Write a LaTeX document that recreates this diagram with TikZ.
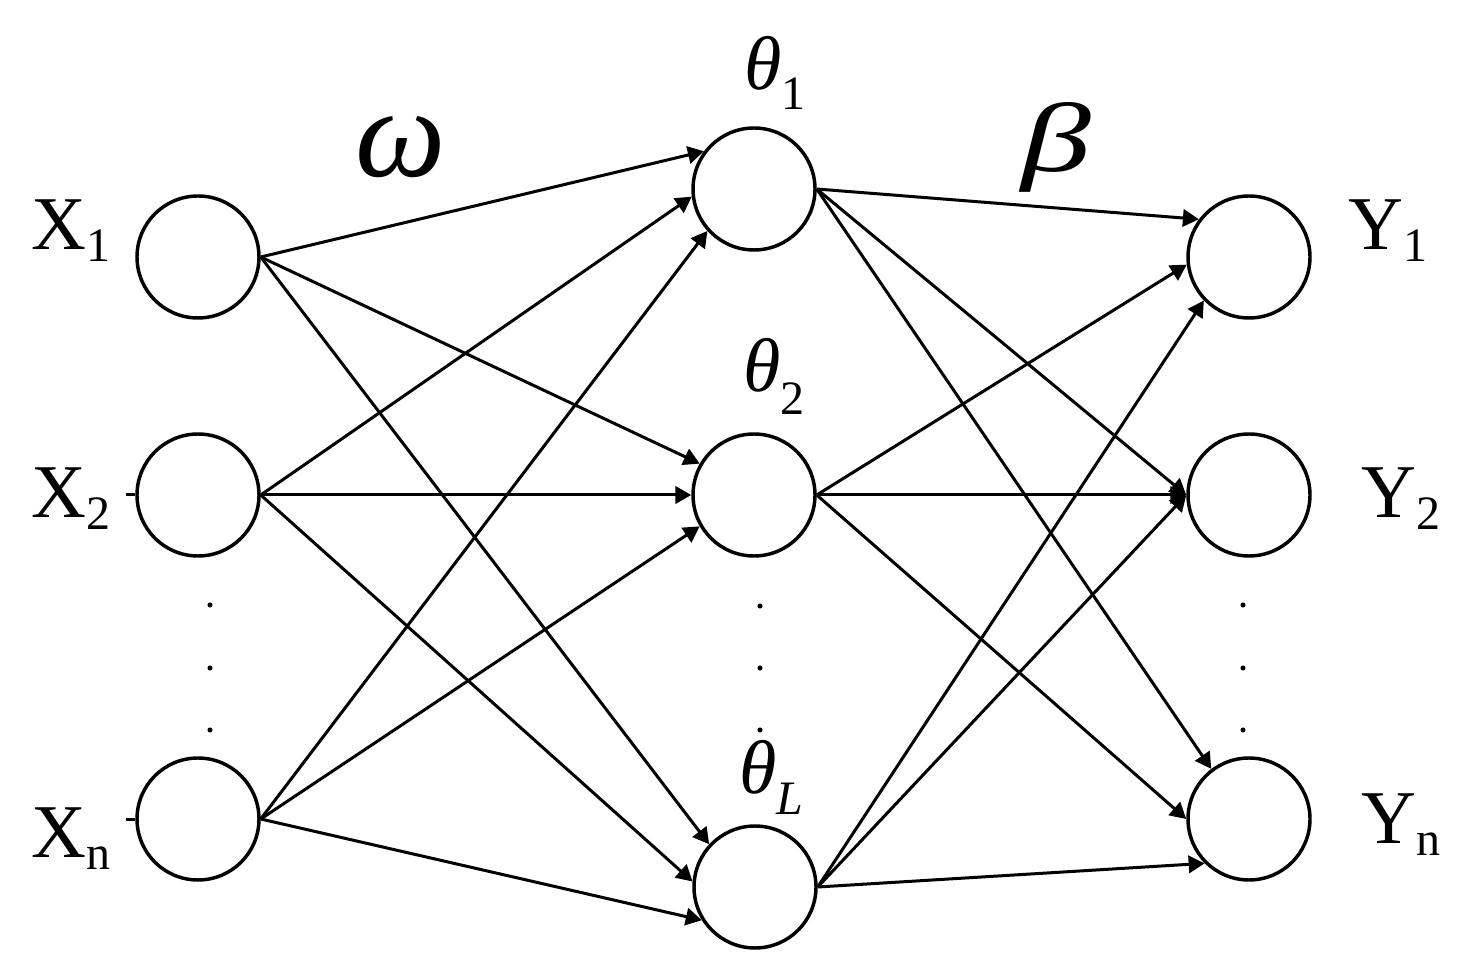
\documentclass[tikz,border=0pt]{standalone}
\usepackage{fontspec}
\setmainfont{Liberation Serif}
\usetikzlibrary{arrows.meta}

\newcommand{\sublbl}[3]{#1\raisebox{#3}{\fontsize{36}{40}\selectfont #2}}

\tikzset{every picture/.style={line width=2.25pt}}
\tikzset{
	neuron/.style={draw, circle, line width=2.6pt, minimum size=91.5pt, inner sep=0pt},
	conn/.style={-{Triangle[length=12pt,width=13pt]}},
	lbl/.style={inner sep=0pt, anchor=base west, font=\fontsize{57}{60}\selectfont}}

\begin{document}
\begin{tikzpicture}[x=0.75pt,y=0.75pt,yscale=-1,xscale=1]
	\useasboundingbox (0,0) rectangle (1479,969);

	%Shape: Circle input layer
	\node [neuron] (x1) at (198,257) {};
	\node [neuron] (x2) at (198,495) {};
	\node [neuron] (xn) at (198,819) {};
	%Shape: Circle hidden layer
	\node [neuron] (h1) at (754,189) {};
	\node [neuron] (h2) at (754,495) {};
	\node [neuron] (hl) at (755,887) {};
	%Shape: Circle output layer
	\node [neuron] (y1) at (1249,257) {};
	\node [neuron] (y2) at (1249,495) {};
	\node [neuron] (yn) at (1249,819) {};

	%Straight Lines input to hidden
	\draw [conn] (x1.east) -- (h1.143) ;
	\draw [conn] (x2.east) -- (h1.187) ;
	\draw [conn] (xn.east) -- (h1.222) ;
	\draw [conn] (x1.east) -- (h2.150) ;
	\draw [conn] (x2.east) -- (h2.180) ;
	\draw [conn] (xn.east) -- (h2.210) ;
	\draw [conn] (x1.east) -- (hl.137) ;
	\draw [conn] (x2.east) -- (hl.175) ;
	\draw [conn] (xn.east) -- (hl.212) ;
	%Straight Lines hidden to output
	\draw [conn] (h1.east) -- (y1.143) ;
	\draw [conn] (h2.east) -- (y1.187) ;
	\draw [conn] (hl.east) -- (y1.224) ;
	\draw [conn] (h1.east) -- (y2.180) ;
	\draw [conn] (h2.east) -- (y2.180) ;
	\draw [conn] (hl.east) -- (y2.180) ;
	\draw [conn] (h1.east) -- (yn.127) ;
	\draw [conn] (h2.east) -- (yn.180) ;
	\draw [conn] (hl.east) -- (yn.225) ;
	%Straight Lines short stubs
	\draw (x2.west) -- ++(-9,0) ;
	\draw (xn.west) -- ++(-9,0) ;

	%Shape: Circle dots
	\fill (210,605) circle (1.9pt) ;
	\fill (210,668) circle (1.9pt) ;
	\fill (210,730) circle (1.9pt) ;
	\fill (760,606) circle (1.9pt) ;
	\fill (760,668) circle (1.9pt) ;
	\fill (760,730) circle (1.9pt) ;
	\fill (1243,605) circle (1.9pt) ;
	\fill (1243,668) circle (1.9pt) ;
	\fill (1243,730) circle (1.9pt) ;

	% Text Node
	\node [lbl] (lx1) at (30,250) {\sublbl{X}{1}{-9pt}};
	% Text Node
	\node [lbl] (lx2) at (30,518) {\sublbl{X}{2}{-9pt}};
	% Text Node
	\node [lbl] (lxn) at (30,857) {\sublbl{X}{n}{-9pt}};
	% Text Node
	\node [lbl] (ly1) at (1347,250) {\sublbl{Y}{1}{-9pt}};
	% Text Node
	\node [lbl] (ly2) at (1360,518) {\sublbl{Y}{2}{-9pt}};
	% Text Node
	\node [lbl] (lyn) at (1360,843) {\sublbl{Y}{n}{-9pt}};
	% Text Node
	\node [lbl] (lh1) at (743,90) {\sublbl{\textit{θ}}{1}{-15pt}};
	% Text Node
	\node [lbl] (lh2) at (742,392) {\sublbl{\textit{θ}}{2}{-17pt}};
	% Text Node
	\node [lbl] (lhl) at (738,793) {\sublbl{\textit{θ}}{\textit{L}}{-16pt}};
	% Text Node
	\node [lbl, font=\fontsize{96}{98}\selectfont\itshape] (lw) at (354,177) {ω};
	% Text Node
	\node [lbl, font=\fontsize{70}{72}\selectfont\itshape] (lb) at (1020,172) {\scalebox{1.5}[1.05]{β}};

\end{tikzpicture}
\end{document}
